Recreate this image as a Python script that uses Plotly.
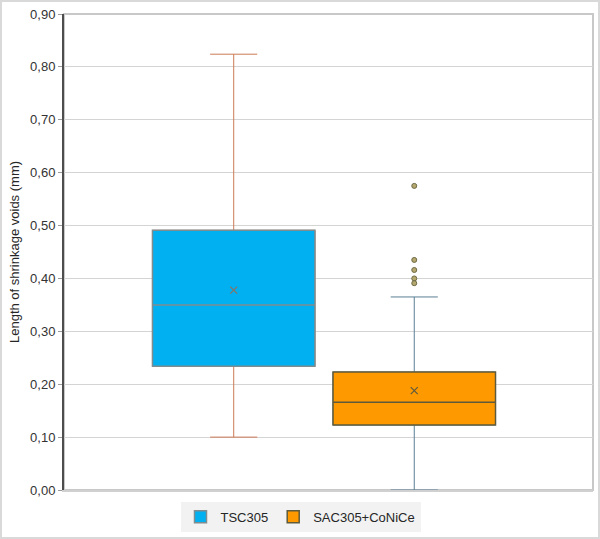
import plotly.graph_objects as go

# box-plot statistics (mm)
series = ["TSC305", "SAC305+CoNiCe"]
q1 = [0.234, 0.123]
median = [0.350, 0.166]
q3 = [0.491, 0.223]
lower_whisker = [0.100, 0.000]
upper_whisker = [0.824, 0.365]
mean = [0.378, 0.188]
outliers = [[], [0.575, 0.435, 0.416, 0.400, 0.391]]

fill_colors = ["#00b0f0", "#ff9900"]
border_colors = ["#7f8c90", "#5e5b3c"]
whisker_colors = ["#cc7a55", "#5b7f95"]
mean_colors = ["#8a7262", "#5e5b3c"]

fig = go.Figure()

for i, name in enumerate(series):
    pos = [i + 1]
    # whiskers first (own colour), box drawn on top
    fig.add_trace(go.Box(x=pos, q1=[q1[i]], median=[median[i]], q3=[q3[i]],
                         lowerfence=[lower_whisker[i]], upperfence=[upper_whisker[i]],
                         width=0.9, whiskerwidth=0.29,
                         fillcolor="rgba(0,0,0,0)",
                         line=dict(color=whisker_colors[i], width=1),
                         showlegend=False, hoverinfo="skip"))
    fig.add_trace(go.Box(x=pos, q1=[q1[i]], median=[median[i]], q3=[q3[i]],
                         lowerfence=[q1[i]], upperfence=[q3[i]],
                         width=0.9, whiskerwidth=0,
                         fillcolor=fill_colors[i],
                         line=dict(color=border_colors[i], width=1.5),
                         name=name, showlegend=True))
    fig.add_trace(go.Scatter(x=pos, y=[mean[i]], mode="markers",
                             marker=dict(symbol="x-thin", size=7,
                                         line=dict(color=mean_colors[i], width=1.2)),
                             showlegend=False, hoverinfo="skip"))
    if outliers[i]:
        fig.add_trace(go.Scatter(x=[i + 1] * len(outliers[i]), y=outliers[i], mode="markers",
                                 marker=dict(symbol="circle", size=5, color="#b5a86e",
                                             line=dict(color="#6e6a45", width=1)),
                                 showlegend=False, hoverinfo="skip"))

W, H = 600, 539
ml, mr, mt, mb = 64, 7, 14, 49
pw, ph = W - ml - mr, H - mt - mb

fig.update_layout(
    width=W, height=H,
    margin=dict(l=ml, r=mr, t=mt, b=mb, autoexpand=False),
    paper_bgcolor="white", plot_bgcolor="white",
    separators=", ",
    font=dict(family="Liberation Sans, Arial, sans-serif", size=13, color="#333333"),
    showlegend=True,
    legend=dict(orientation="h", x=(300.5 - ml) / pw, xanchor="center",
                y=-0.025, yanchor="top", bgcolor="#f2f2f2",
                font=dict(size=13, color="#262626"), itemwidth=30),
    shapes=[
        # plot area frame
        dict(type="rect", xref="paper", yref="paper", x0=0, x1=1, y0=0, y1=1,
             line=dict(color="#c8c8c8", width=2), layer="below"),
        # outer chart border
        dict(type="rect", xref="paper", yref="paper",
             x0=(-ml + 1) / pw, x1=(pw + mr - 1) / pw,
             y0=(-mb + 1) / ph, y1=(ph + mt - 1) / ph,
             line=dict(color="#d9d9d9", width=2)),
    ],
)

fig.update_xaxes(range=[0.06, 2.99], showticklabels=False, showgrid=False,
                 zeroline=False, showline=True, linecolor="#d0d0d0", linewidth=2)
fig.update_yaxes(range=[0, 0.9], dtick=0.1, tickformat=".2f", automargin=False,
                 showgrid=True, gridcolor="#d4d4d4", gridwidth=1,
                 zeroline=False, showline=True, linecolor="#4d4d4d", linewidth=2,
                 ticks="outside", ticklen=4, tickcolor="#9a9a9a",
                 tickfont=dict(size=13, color="#333333"),
                 title=dict(text="Length of shrinkage voids (mm)",
                            font=dict(size=13, color="#262626"), standoff=8))

# drop the browser's default body margin so the figure sits at the page corner
fig.write_html("out.html", config={"displayModeBar": False},
               post_script="document.body.style.margin='0';")
